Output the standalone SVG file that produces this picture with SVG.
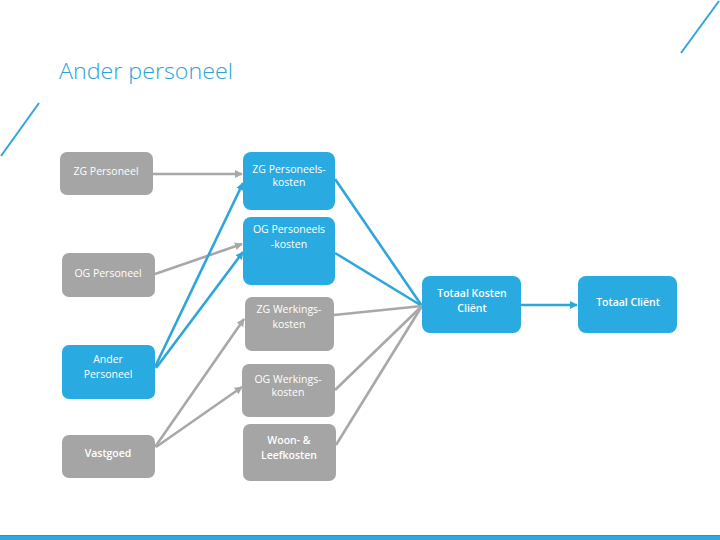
<svg xmlns="http://www.w3.org/2000/svg" width="720" height="540" viewBox="0 0 720 540">
<style>
.blue{fill:#29abe2}
.gray{fill:#a5a5a5}
.t{font-family:"Open Sans","Liberation Sans",sans-serif;font-size:10.5px;fill:#ffffff;text-anchor:middle}
.b{font-weight:600}
.cb{stroke:#2ea6dc;stroke-width:2.6;fill:none}
.cg{stroke:#a8a8a8;stroke-width:2.6;fill:none}
</style>
<defs>
<marker id="ag" viewBox="0 0 10 10" refX="9" refY="5" markerWidth="3" markerHeight="3" orient="auto" markerUnits="strokeWidth">
<path d="M0,0 L10,5 L0,10 z" fill="#a8a8a8"/>
</marker>
<marker id="ab" viewBox="0 0 10 10" refX="9" refY="5" markerWidth="3" markerHeight="3" orient="auto" markerUnits="strokeWidth">
<path d="M0,0 L10,5 L0,10 z" fill="#2ea6dc"/>
</marker>
</defs>
<rect width="720" height="540" fill="#ffffff"/>
<g id="decor">
<line x1="719" y1="1" x2="681" y2="53" stroke="#2ea6dc" stroke-width="2"/>
<line x1="39" y1="103" x2="1" y2="156" stroke="#2ea6dc" stroke-width="2"/>
<rect x="0" y="535" width="720" height="5" fill="#2aaae2"/>
<line x1="0" y1="535.5" x2="720" y2="535.5" stroke="#3b8fc0" stroke-width="1"/>
</g>
<text x="59" y="79" font-family="'Open Sans','Noto Sans',sans-serif" font-size="22.5" fill="#2ea3d6" font-weight="300" textLength="174" lengthAdjust="spacingAndGlyphs">Ander personeel</text>
<g id="connectors">
<line class="cg" x1="153" y1="174" x2="242" y2="174" marker-end="url(#ag)"/>
<line class="cg" x1="155" y1="274" x2="242" y2="244" marker-end="url(#ag)"/>
<line class="cb" x1="155" y1="367" x2="243" y2="183" marker-end="url(#ab)"/>
<line class="cb" x1="156" y1="368" x2="243" y2="252" marker-end="url(#ab)"/>
<line class="cg" x1="155" y1="447" x2="244" y2="319" marker-end="url(#ag)"/>
<line class="cg" x1="156" y1="447" x2="242" y2="387" marker-end="url(#ag)"/>
<line class="cb" x1="335" y1="179" x2="422" y2="306"/>
<line class="cb" x1="335" y1="253" x2="422" y2="306"/>
<line class="cg" x1="334" y1="315" x2="422" y2="306"/>
<line class="cg" x1="335" y1="390" x2="422" y2="306"/>
<line class="cg" x1="336" y1="445" x2="422" y2="306"/>
<line class="cb" x1="521" y1="305" x2="577" y2="305" marker-end="url(#ab)"/>
</g>
<g id="zg-personeel">
<rect class="gray" x="60" y="152" width="93" height="43" rx="7"/>
<text class="t" x="106" y="175">ZG Personeel</text>
</g>
<g id="og-personeel">
<rect class="gray" x="62" y="253" width="93" height="44" rx="7"/>
<text class="t" x="108" y="277">OG Personeel</text>
</g>
<g id="ander-personeel">
<rect class="blue" x="62" y="345" width="93" height="54" rx="7"/>
<text class="t" x="108" y="363">Ander</text>
<text class="t" x="108" y="378">Personeel</text>
</g>
<g id="vastgoed">
<rect class="gray" x="62" y="435" width="93" height="43" rx="7"/>
<text class="t b" x="108" y="457">Vastgoed</text>
</g>
<g id="zg-personeelskosten">
<rect class="blue" x="243" y="152" width="92" height="58" rx="8"/>
<text class="t" x="289" y="173">ZG Personeels-</text>
<text class="t" x="289" y="186">kosten</text>
</g>
<g id="og-personeelskosten">
<rect class="blue" x="243" y="217" width="92" height="68" rx="8"/>
<text class="t" x="289" y="233">OG Personeels</text>
<text class="t" x="289" y="248">-kosten</text>
</g>
<g id="zg-werkingskosten">
<rect class="gray" x="245" y="297" width="89" height="54" rx="7"/>
<text class="t" x="289" y="313">ZG Werkings-</text>
<text class="t" x="289" y="328">kosten</text>
</g>
<g id="og-werkingskosten">
<rect class="gray" x="242" y="364" width="93" height="53" rx="7"/>
<text class="t" x="288" y="383">OG Werkings-</text>
<text class="t" x="288" y="396">kosten</text>
</g>
<g id="woon-leefkosten">
<rect class="gray" x="243" y="424" width="93" height="57" rx="7"/>
<text class="t b" x="289" y="444">Woon- &amp;</text>
<text class="t b" x="289" y="459">Leefkosten</text>
</g>
<g id="totaal-kosten-client">
<rect class="blue" x="422" y="276" width="99" height="57" rx="8"/>
<text class="t b" x="472" y="297">Totaal Kosten</text>
<text class="t b" x="472" y="312">Cliënt</text>
</g>
<g id="totaal-client">
<rect class="blue" x="578" y="276" width="99" height="57" rx="8"/>
<text class="t b" x="628" y="306">Totaal Cliënt</text>
</g>
</svg>
